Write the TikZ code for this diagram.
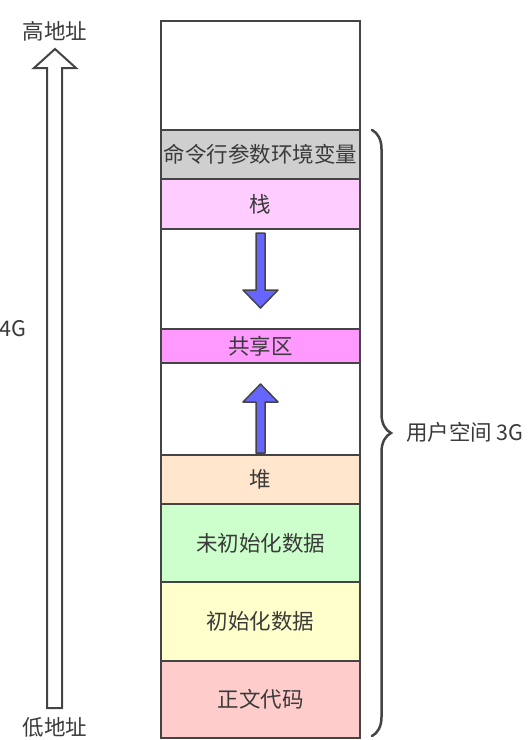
\documentclass[tikz,border=0pt]{standalone}
\usepackage{fontspec}
\setmainfont{Noto Sans CJK SC}
\usetikzlibrary{decorations.pathreplacing}
\definecolor{edge}{HTML}{444444}
\definecolor{ink}{HTML}{3A3A3A}
\definecolor{envgray}{HTML}{CFCFCF}
\definecolor{stackpink}{HTML}{FFCCFF}
\definecolor{sharedpink}{HTML}{FF99FF}
\definecolor{heapbeige}{HTML}{FFE6CC}
\definecolor{bssgreen}{HTML}{CCFFCC}
\definecolor{datayellow}{HTML}{FFFFCC}
\definecolor{textred}{HTML}{FFCCCC}
\definecolor{flowblue}{HTML}{6666FF}
\begin{document}
\begin{tikzpicture}[x=1pt, y=-1pt,
    seg/.style={draw=edge, line width=2pt, minimum width=199pt, inner sep=0pt, anchor=north west,
        text=ink, font=\fontsize{21.5}{24}\selectfont},
    lbl/.style={text=ink, font=\fontsize{21.5}{24}\selectfont, inner sep=0pt},
    flow/.style={fill=flowblue, draw=edge, line width=1.5pt, line join=round}]
    \useasboundingbox (0,0) rectangle (531,740);

    % memory segments from high to low address
    \node[seg, minimum height=109pt] (free) at (160,20) {};
    \node[seg, minimum height=49pt, fill=envgray] (env) at (160,129) {命令行参数环境变量};
    \node[seg, minimum height=50pt, fill=stackpink] (stack) at (160,178) {栈};
    \node[seg, minimum height=100pt] (gapa) at (160,228) {};
    \node[seg, minimum height=34pt, fill=sharedpink] (shared) at (160,328) {共享区};
    \node[seg, minimum height=92pt] (gapb) at (160,362) {};
    \node[seg, minimum height=49pt, fill=heapbeige] (heap) at (160,454) {堆};
    \node[seg, minimum height=78pt, fill=bssgreen] (bss) at (160,503) {未初始化数据};
    \node[seg, minimum height=79pt, fill=datayellow] (data) at (160,581) {初始化数据};
    \node[seg, minimum height=77pt, fill=textred] (text) at (160,660) {正文代码};

    % stack grows down, heap grows up
    \draw[flow] (256,233) -- (265,233) -- (265,290) -- (278,290) -- (260.5,308)
        -- (243,290) -- (256,290) -- cycle;
    \draw[flow] (256,453) -- (265,453) -- (265,402) -- (278,402) -- (260.5,384)
        -- (243,402) -- (256,402) -- cycle;

    % address arrow
    \draw[edge, line width=2pt, line join=miter] (47,708) -- (62,708) -- (62,68) -- (76,68)
        -- (55,49) -- (34,68) -- (47,68) -- cycle;
    \node[lbl] (high) at (55,31) {高地址};
    \node[lbl] (low) at (55,727) {低地址};
    \node[lbl, anchor=west] (total) at (-1,329) {4G};

    % user space brace
    \coordinate (ustop) at (372,130);
    \coordinate (usbot) at (372,736);
    \draw[edge, line width=2.5pt, line cap=round, decorate,
        decoration={brace, amplitude=19pt, aspect=0.5}] (ustop) -- (usbot);
    \node[lbl, anchor=west] (user) at (406,432) {用户空间 3G};
\end{tikzpicture}
\end{document}
